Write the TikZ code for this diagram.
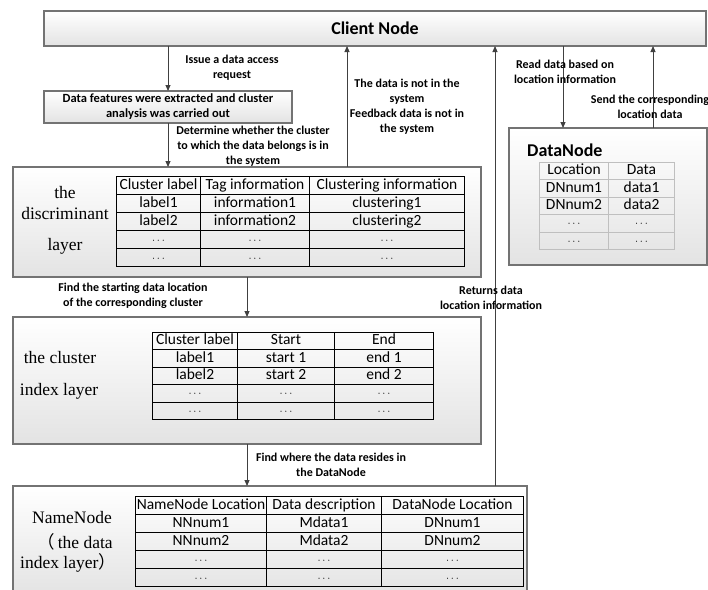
\documentclass[tikz,border=0pt]{standalone}
\usepackage{fontspec}
\setmainfont{Carlito}
\newfontfamily\seriffont{Liberation Serif}
\newfontfamily\cjkfont{Noto Sans CJK SC}
\usetikzlibrary{arrows.meta,shadows,matrix}
\newcommand\mydots{{\fontsize{11}{11}\selectfont$\cdots$}}
\begin{document}
\begin{tikzpicture}[x=1pt,y=-1pt,
  layerbox/.style={draw=black!55, line width=1.1pt, top color=white, bottom color=black!11,
    drop shadow={shadow xshift=1.2pt,shadow yshift=-1.2pt,opacity=0.35},
    inner sep=0pt, outer sep=0pt, anchor=north west},
  arr/.style={draw=black!75, line width=0.9pt, -{Triangle[length=6pt,width=5pt]}},
  lab/.style={font=\bfseries\fontsize{12}{15}\selectfont, align=center, inner sep=0pt},
  layertext/.style={font=\seriffont\fontsize{17.5}{20}\selectfont, inner sep=0pt},
  tbl/.style={matrix of nodes, anchor=north west, inner sep=0pt, outer sep=0pt,
    column sep=-1pt, row sep=-1pt,
    nodes={draw=black, line width=1pt, minimum height=18pt, text height=10pt, text depth=3pt,
      inner sep=0pt, outer sep=0pt, font=\fontsize{15.5}{18}\selectfont}},
]
\useasboundingbox (0,0) rectangle (708,589);

% boxes
\node[layerbox, minimum width=662pt, minimum height=35pt,
  font=\bfseries\fontsize{18}{20}\selectfont] (client) at (44,11) {Client Node};
\node[layerbox, minimum width=248pt, minimum height=32pt, align=center,
  font=\bfseries\fontsize{12.5}{15}\selectfont] (feat) at (44,91)
  {Data features were extracted and cluster\\analysis was carried out};
\node[layerbox, minimum width=468pt, minimum height=110pt] (disc) at (13,167) {};
\node[layerbox, minimum width=468pt, minimum height=127pt] (clus) at (13,317) {};
\node[layerbox, minimum width=514pt, minimum height=110pt] (namen) at (13,486) {};
\node[layerbox, minimum width=198pt, minimum height=137pt] (datan) at (509,128) {};

% layer names
\node[layertext] (d1) at (65,193) {the};
\node[layertext] (d2) at (65,214) {discriminant};
\node[layertext] (d3) at (65,246) {layer};
\node[layertext] (c1) at (60,358) {the cluster};
\node[layertext] (c2) at (59,391) {index layer};
\node[layertext] (n1) at (72,518) {NameNode};
\node[layertext] (n2) at (75,542) {{\cjkfont （}\,the data};
\node[layertext] (n3) at (68,563) {index layer{\cjkfont ）}};
\node[anchor=west, inner sep=0pt, font=\bfseries\fontsize{18}{20}\selectfont] (dntitle) at (527,150) {DataNode};

% tables
\matrix (dt) [tbl, column 1/.style={nodes={minimum width=84pt}},
  column 2/.style={nodes={minimum width=109pt}},
  column 3/.style={nodes={minimum width=155pt}}] at (116,176) {
  Cluster label & Tag information & Clustering information\\
  label1 & information1 & clustering1\\
  label2 & information2 & clustering2\\
  \mydots & \mydots & \mydots\\
  \mydots & \mydots & \mydots\\
};
\matrix (ct) [tbl, nodes={minimum height=17.4pt},
  column 1/.style={nodes={minimum width=85pt}},
  column 2/.style={nodes={minimum width=97pt}},
  column 3/.style={nodes={minimum width=99pt}}] at (152,332) {
  Cluster label & Start & End\\
  label1 & start 1 & end 1\\
  label2 & start 2 & end 2\\
  \mydots & \mydots & \mydots\\
  \mydots & \mydots & \mydots\\
};
\matrix (nt) [tbl,
  column 1/.style={nodes={minimum width=131pt}},
  column 2/.style={nodes={minimum width=115pt}},
  column 3/.style={nodes={minimum width=142pt}}] at (135,496) {
  NameNode Location & Data description & DataNode Location\\
  NNnum1 & Mdata1 & DNnum1\\
  NNnum2 & Mdata2 & DNnum2\\
  \mydots & \mydots & \mydots\\
  \mydots & \mydots & \mydots\\
};
\matrix (dnt) [tbl, nodes={draw=black!25, minimum height=17.4pt},
  column 1/.style={nodes={minimum width=69pt}},
  column 2/.style={nodes={minimum width=66pt}}] at (539,162) {
  Location & Data\\
  DNnum1 & data1\\
  DNnum2 & data2\\
  \mydots & \mydots\\
  \mydots & \mydots\\
};

% arrow x positions
\coordinate (c347) at (347,0);
\coordinate (c495) at (495,0);
\coordinate (c563) at (563,0);
\coordinate (c653) at (653,0);

% arrows
\draw[arr] (client.south -| feat.north) -- (feat.north);
\draw[arr] (feat.south) -- (feat.south |- disc.north);
\draw[arr] (disc.north -| c347) -- (client.south -| c347);
\draw[arr] (disc.south) -- (clus.north);
\draw[arr] (clus.south) -- (clus.south |- namen.north);
\draw[arr] (namen.north -| c495) -- (client.south -| c495);
\draw[arr] (client.south -| c563) -- (datan.north -| c563);
\draw[arr] (datan.north -| c653) -- (client.south -| c653);

% arrow labels
\node[lab] (l1) at (232,68) {Issue a data access\\request};
\node[lab] (l2) at (253,146) {Determine whether the cluster\\to which the data belongs is in\\the system};
\node[lab] (l3) at (407,107) {The data is not in the\\system\\Feedback data is not in\\the system};
\node[lab] (l4) at (133,296) {Find the starting data location\\of the corresponding cluster};
\node[lab] (l5) at (491,298) {Returns data\\location information};
\node[lab] (l6) at (331,465) {Find where the data resides in\\the DataNode};
\node[lab] (l7) at (565,72) {Read data based on\\location information};
\node[lab] (l8) at (650,107) {Send the corresponding\\location data};
\end{tikzpicture}
\end{document}
